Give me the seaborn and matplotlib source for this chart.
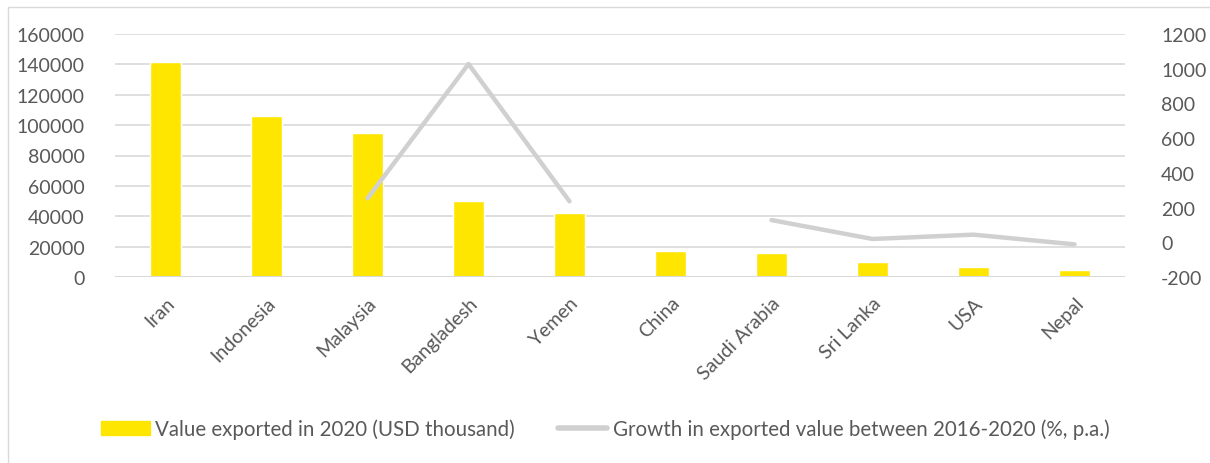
import numpy as np
import pandas as pd
import matplotlib
matplotlib.use("Agg")
import matplotlib.pyplot as plt
import matplotlib.patches as mpatches
from matplotlib.lines import Line2D
import seaborn as sns

countries = ["Iran", "Indonesia", "Malaysia", "Bangladesh", "Yemen", "China",
             "Saudi Arabia", "Sri Lanka", "USA", "Nepal"]
export_value = [141500, 105800, 94800, 50300, 42400, 16900, 15600, 9700, 6800, 4600]
growth = [np.nan, np.nan, 253, 1027, 236, np.nan, 128, 19, 44, -12]
left_ticks = [0, 20000, 40000, 60000, 80000, 100000, 120000, 140000, 160000]
right_ticks = [-200, 0, 200, 400, 600, 800, 1000, 1200]
bar_label = "Value exported in 2020 (USD thousand)"
line_label = "Growth in exported value between 2016-2020 (%, p.a.)"

sns.set_style("white")
plt.rcParams["font.family"] = ["Lato", "DejaVu Sans"]

BAR = "#FFE600"
LINE = "#D0D0D0"
GRID = "#D9D9D9"
TXT = "#595959"
FS = 14

df = pd.DataFrame({"country": countries, "value": export_value, "growth": growth})
df["pos"] = np.arange(len(df))
# segment id for contiguous non-missing runs of growth
valid = df["growth"].notna()
df["seg"] = (valid != valid.shift()).cumsum()

fig = plt.figure(figsize=(12.1, 4.64), dpi=100)
ax = fig.add_axes([115 / 1210, 1 - 278 / 464, 1010 / 1210, 243 / 464])

sns.barplot(data=df, x="country", y="value", color=BAR, width=0.31,
            saturation=1, ax=ax, zorder=3)
ax.set_ylim(0, 160000)
ax.set_xlim(-0.5, len(countries) - 0.5)
ax.set_yticks(left_ticks)
ax.set_yticklabels([str(t) for t in left_ticks])
ax.grid(axis="y", color=GRID, linewidth=1.2, zorder=0)
ax.set_axisbelow(True)
for s in ax.spines.values():
    s.set_visible(False)
ax.set_xlabel("")
ax.set_ylabel("")
ax.tick_params(axis="y", length=0, pad=22, labelsize=FS, labelcolor=TXT)
ax.tick_params(axis="x", length=0, pad=12, labelsize=FS, labelcolor=TXT)
ax.set_xticks(range(len(countries)))
ax.set_xticklabels(countries, rotation=45, ha="right", rotation_mode="anchor")
ax.axhline(0, color=GRID, linewidth=1.5, zorder=4)

ax2 = ax.twinx()
sns.lineplot(data=df[valid], x="pos", y="growth", units="seg", estimator=None,
             color=LINE, linewidth=3.2, ax=ax2, solid_capstyle="round", zorder=5)
ax2.set_ylim(-200, 1200)
ax2.set_yticks(right_ticks)
ax2.set_yticklabels([str(t) for t in right_ticks])
ax2.set_xlim(-0.5, len(countries) - 0.5)
for s in ax2.spines.values():
    s.set_visible(False)
ax2.set_xlabel("")
ax2.set_ylabel("")
ax2.tick_params(axis="y", length=0, pad=26, labelsize=FS, labelcolor=TXT)

handles = [mpatches.Patch(color=BAR, label=bar_label),
           Line2D([0], [0], color=LINE, linewidth=4, label=line_label)]
leg = fig.legend(handles=handles, loc="center", bbox_to_anchor=(0.5, 1 - 430 / 464),
                 ncol=2, frameon=False, fontsize=14.8, handlelength=2.4,
                 handletextpad=0.25, columnspacing=2.1)
for t in leg.get_texts():
    t.set_color(TXT)

border = mpatches.Rectangle((8 / 1210, -0.1), 1.2, 1 - 8 / 464 + 0.1,
                            transform=fig.transFigure, fill=False,
                            edgecolor="#D9D9D9", linewidth=1)
fig.patches.append(border)

fig.savefig("out.png", dpi=100)
